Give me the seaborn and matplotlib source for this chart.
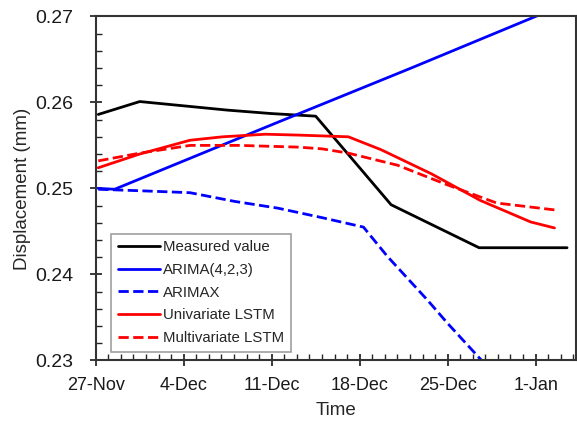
import pandas as pd
import numpy as np
import matplotlib
matplotlib.use("Agg")
import matplotlib.pyplot as plt
import matplotlib.dates as mdates
from matplotlib.ticker import MultipleLocator, FuncFormatter
import seaborn as sns

start = pd.Timestamp("2019-11-27")

# day offsets from 27-Nov and displacement values (mm)
measured_days = [0.2, 3.5, 7.0, 10.5, 14.0, 17.5, 23.5, 30.5, 37.5]
measured_vals = [0.2586, 0.2601, 0.2596, 0.2591, 0.2587, 0.2584, 0.2481, 0.2431, 0.2431]

arima_days = [0.2, 1.5, 14.5, 25.1, 35.0, 38.0]
arima_vals = [0.2500, 0.2499, 0.2577, 0.2640, 0.2700, 0.2718]

arimax_days = [0.2, 4.0, 7.5, 11.0, 14.5, 18.0, 21.3, 23.2, 26.4, 28.0, 30.7, 32.0]
arimax_vals = [0.2499, 0.2497, 0.2495, 0.2485, 0.2477, 0.2466, 0.2455, 0.2421, 0.2370, 0.2343, 0.2300, 0.2278]

uni_days = [0.2, 3.5, 7.5, 10.1, 13.5, 16.1, 20.1, 22.7, 26.7, 30.6, 34.6, 36.5]
uni_vals = [0.2524, 0.2540, 0.2556, 0.2560, 0.2563, 0.2562, 0.2560, 0.2545, 0.2517, 0.2486, 0.2461, 0.2454]

multi_days = [0.2, 3.5, 7.5, 11.4, 16.1, 18.0, 20.1, 24.0, 28.0, 31.9, 36.5]
multi_vals = [0.2532, 0.2541, 0.2550, 0.2550, 0.2548, 0.2546, 0.2541, 0.2527, 0.2504, 0.2483, 0.2475]

series = [
    ("Measured value", measured_days, measured_vals, "black", "-"),
    ("ARIMA(4,2,3)", arima_days, arima_vals, "#0000ff", "-"),
    ("ARIMAX", arimax_days, arimax_vals, "#0000ff", "--"),
    ("Univariate LSTM", uni_days, uni_vals, "#ff0000", "-"),
    ("Multivariate LSTM", multi_days, multi_vals, "#ff0000", "--"),
]

sns.set_style("ticks")
plt.rcParams["font.family"] = ["Liberation Sans", "DejaVu Sans"]

fig = plt.figure(figsize=(5.77, 4.21), dpi=100)
ax = fig.add_axes([0.166, 0.144, 0.832, 0.817])

for name, days, vals, color, ls in series:
    df = pd.DataFrame({"Time": start + pd.to_timedelta(days, unit="D"), "value": vals})
    sns.lineplot(data=df, x="Time", y="value", ax=ax, color=color, linewidth=2,
                 label=name, linestyle=ls, dashes=(3, 2) if ls == "--" else None)

ax.set_xlim(start, start + pd.Timedelta(days=38.2))
ax.set_ylim(0.23, 0.27)

ticks = [start + pd.Timedelta(days=7 * i) for i in range(6)]
ax.set_xticks(ticks)
ax.set_xticklabels([f"{t.day}-{t.strftime('%b')}" for t in ticks])
ax.xaxis.set_minor_locator(mdates.DayLocator())
ax.yaxis.set_major_locator(MultipleLocator(0.01))
ax.yaxis.set_minor_locator(MultipleLocator(0.002))
ax.yaxis.set_major_formatter(FuncFormatter(lambda v, p: f"{v:.2f}"))

ax.tick_params(which="major", direction="inout", length=8, width=1.2, labelsize=13,
               colors="#1a1a1a")
ax.tick_params(axis="x", which="major", pad=8)
ax.tick_params(axis="y", which="major", pad=12, labelsize=14)
ax.tick_params(which="minor", direction="in", length=4, width=1)
for s in ax.spines.values():
    s.set_visible(True)
    s.set_linewidth(1.5)
    s.set_color("#333333")

ax.set_xlabel("Time", fontsize=13.5, labelpad=6)
ax.set_ylabel("Displacement (mm)", fontsize=13.5, labelpad=3)

leg = ax.legend(loc="lower left", bbox_to_anchor=(0.016, 0.003), fontsize=10.8, frameon=True,
                fancybox=False, edgecolor="#888888", handlelength=2.8, handletextpad=0.2,
                labelspacing=0.58, borderpad=0.45)
leg.get_frame().set_linewidth(1.2)

fig.savefig("out.png", dpi=100)
